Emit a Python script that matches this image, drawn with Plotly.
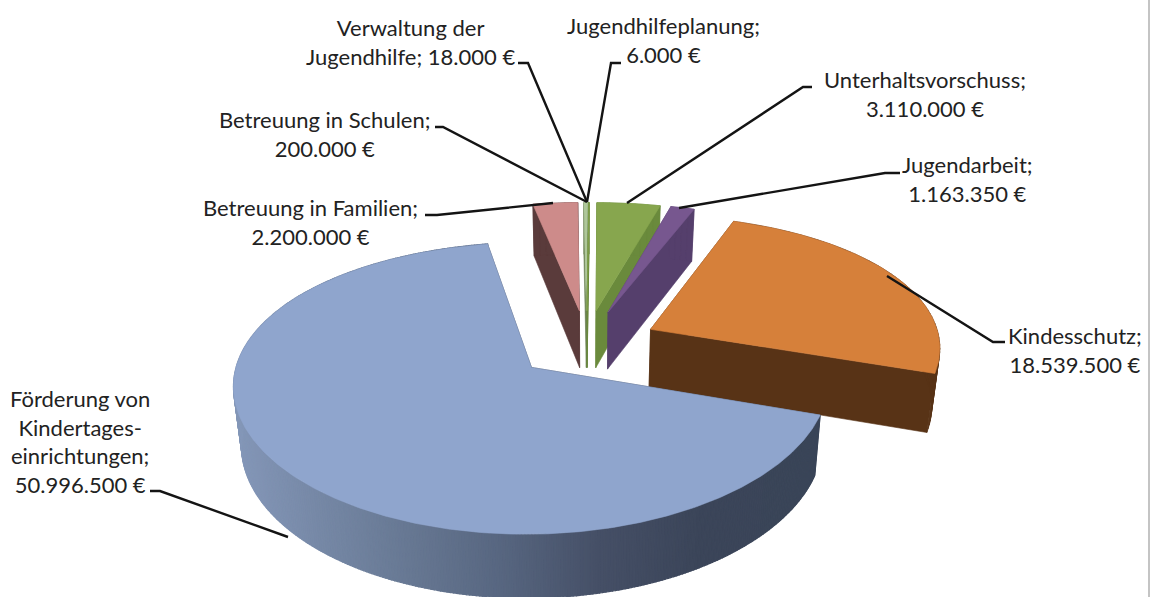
import math
import plotly.graph_objects as go

# ---- data (clockwise from the big slice) ----
names = ["Förderung von<br>Kindertages-<br>einrichtungen;<br>50.996.500 €",
         "Betreuung in Familien;<br>2.200.000 €",
         "Betreuung in Schulen;<br>200.000 €",
         "Verwaltung der<br>Jugendhilfe; 18.000 €",
         "Jugendhilfeplanung;<br>6.000 €",
         "Unterhaltsvorschuss;<br>3.110.000 €",
         "Jugendarbeit;<br>1.163.350 €",
         "Kindesschutz;<br>18.539.500 €"]
values = [50996500, 2200000, 200000, 18000, 6000, 3110000, 1163350, 18539500]
top_colors = ["#8fa5cd", "#cd8b8a", "#aec79a", "#9bb97c", "#87a64e", "#87a64e", "#77578f", "#d6803a"]
side_colors = ["#5f7190", "#5a3b3b", "#6a7f52", "#6a7f52", "#6a8a3c", "#6a8a3c", "#553f6c", "#583316"]
label_x = [80, 310, 324, 410, 663, 925, 967, 1075]
label_y = [441, 222, 134, 42, 40, 94, 179, 350]
leaders = [
    [(150, 491), (160, 491), (288, 537)],
    [(425, 215), (437, 215), (553, 203)],
    [(435, 127), (443, 127), (587, 202)],
    [(518, 63), (528, 63), (587, 202)],
    [(621, 63), (611, 63), (587, 202)],
    [(812, 87), (803, 87), (627, 203)],
    [(900, 173), (885, 173), (679, 208)],
    [(1005, 342), (993, 342), (887, 276)],
]
gradient_x = [232, 400, 500, 600, 700, 825]
gradient_c = ["#8497b8", "#687994", "#576680", "#454f66", "#3b4559", "#3a4558"]

# ---- projection settings ----
START_DEG = 108.2
EXPLODE = 0.248
CX, CY, R, RX = 586.5, 344, 297, 290
KY, CY2, SX = 0.469, -0.0698, 0.115
BOTTOM_X = 0.977


def project(X, Y, lower=False):
    sx = CX + RX * X * (1 - SX * Y)
    sy = CY - R * (KY * Y + CY2 * Y * Y)
    if lower:
        sx = CX + (sx - CX) * BOTTOM_X
        sy = sy + 58 - 5 * Y
    return sx, sy


def lerp_hex(a, b, t):
    ca = [int(a[i:i + 2], 16) for i in (1, 3, 5)]
    cb = [int(b[i:i + 2], 16) for i in (1, 3, 5)]
    return "#%02x%02x%02x" % tuple(round(p + (q - p) * t) for p, q in zip(ca, cb))


def gradient(x):
    if x <= gradient_x[0]:
        return gradient_c[0]
    for j in range(len(gradient_x) - 1):
        if x <= gradient_x[j + 1]:
            t = (x - gradient_x[j]) / (gradient_x[j + 1] - gradient_x[j])
            return lerp_hex(gradient_c[j], gradient_c[j + 1], t)
    return gradient_c[-1]


fig = go.Figure()


def poly(pts, color, width=0.6):
    fig.add_trace(go.Scatter(x=[p[0] for p in pts] + [pts[0][0]],
                             y=[p[1] for p in pts] + [pts[0][1]],
                             mode="lines", fill="toself", fillcolor=color,
                             line=dict(color=color, width=width),
                             hoverinfo="skip", showlegend=False))


total = sum(values)
slices = []
angle = START_DEG
for i, v in enumerate(values):
    sweep = v / total * 360
    slices.append((i, angle, angle + sweep))
    angle += sweep

# back-to-front painting order: small slices left to right, then orange, then blue
order = [1, 2, 3, 4, 5, 6, 7, 0]
for i in order:
    _, a0, a1 = slices[i]
    mid = math.radians((a0 + a1) / 2)
    ex, ey = EXPLODE * math.sin(mid), EXPLODE * math.cos(mid)
    step = 0.6 if i == 0 else 1.5
    n = max(2, int((a1 - a0) / step) + 2)
    rim = []
    for k in range(n):
        t = math.radians(a0 + (a1 - a0) * k / (n - 1))
        rim.append((ex + math.sin(t), ey + math.cos(t)))
    apex = (ex, ey)
    apex_up = project(*apex)
    apex_lo = project(*apex, lower=True)
    # radial walls
    for e in (rim[0], rim[-1]):
        poly([apex_up, project(*e), project(*e, lower=True), apex_lo],
             "#3a4558" if i == 0 else side_colors[i])
    # rim wall
    for k in range(n - 1):
        p, q = rim[k], rim[k + 1]
        up_p, up_q = project(*p), project(*q)
        lo_p, lo_q = project(*p, lower=True), project(*q, lower=True)
        if i == 0:
            poly([up_p, up_q, lo_q, lo_p], gradient((up_p[0] + up_q[0]) / 2), width=1.2)
        else:
            poly([up_p, up_q, lo_q, lo_p], side_colors[i])
    # top face
    poly([apex_up] + [project(*p) for p in rim], top_colors[i])

shapes = []
for pts in leaders:
    path = "M " + " L ".join(f"{x},{y}" for x, y in pts)
    shapes.append(dict(type="path", path=path, line=dict(color="#141414", width=2.4), layer="above"))
shapes.append(dict(type="line", x0=1149, x1=1149, y0=0, y1=597, line=dict(color="#b0b0b0", width=1.5)))

annotations = [dict(x=x, y=y, text=t, showarrow=False, xanchor="center", yanchor="middle",
                    align="center", font=dict(family="Lato", size=22, color="#222222"))
               for t, x, y in zip(names, label_x, label_y)]

fig.update_layout(
    width=1150, height=597, margin=dict(l=0, r=0, t=0, b=0),
    paper_bgcolor="white", plot_bgcolor="white", showlegend=False,
    xaxis=dict(range=[0, 1150], visible=False, fixedrange=True),
    yaxis=dict(range=[597, 0], visible=False, fixedrange=True),
    shapes=shapes, annotations=annotations,
)
fig.write_html("out.html", config={"displayModeBar": False},
               post_script="document.body.style.margin='0';document.body.style.overflow='hidden';")
